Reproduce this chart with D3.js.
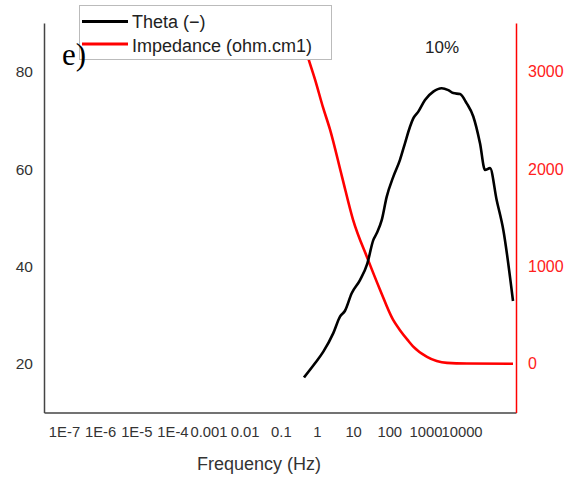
<!DOCTYPE html>
<html><head><meta charset="utf-8">
<script src="https://cdn.jsdelivr.net/npm/d3@7"></script>
<style>body{margin:0;background:#fff}svg{display:block}</style>
</head><body>
<svg id="c" width="566" height="478"></svg>
<script>
// ---- data ----
const thetaFreq = [0.438,0.881,1.50,2.83,4.34,5.96,9.14,15.5,24.7,36.1,44.9,61.8,84.9,129,198,272,375,462,637,975,1656,2825,4305,5916,9057,13900,21130,32430,44570,61380,93970,143200,265500];
const thetaVal  = [17.2,20.1,22.5,26.3,29.7,30.9,34.5,37.2,40.6,45.4,46.8,49.5,54.3,58.4,61.9,65.3,68.7,70.4,71.8,74.2,75.9,76.6,76.2,75.6,75.4,73.5,70.8,65.3,59.8,60.2,53.6,47.5,32.9];
const impFreq = [0.438,0.564,0.881,1.47,2.29,4.92,9.93,25.8,55.5,127,198,330,454,1107,3963,14160,265500];
const impVal  = [3281,3147,2921,2633,2407,1923,1481,1070,761,453,345,240,180,72,10,3,1];
const xTicks = [1e-7,1e-6,1e-5,1e-4,0.001,0.01,0.1,1,10,100,1000,10000];
const xTickLabels = ["1E-7","1E-6","1E-5","1E-4","0.001","0.01","0.1","1","10","100","1000","10000"];
const leftTicks = [20,40,60,80];
const rightTicks = [0,1000,2000,3000];

// ---- layout ----
const SANS = "Liberation Sans, Arial, sans-serif";
const L = 44, R = 516, T = 23, B = 412.5;
const svg = d3.select("#c");
const x = d3.scaleLog().domain([Math.pow(10,-7.553), Math.pow(10,5.507)]).range([L, R]);
const yL = d3.scaleLinear().domain([10, 90]).range([B, T]);
const yR = d3.scaleLinear().domain([-500, 3500]).range([B, T]);

// axes
const gx = svg.append("g").attr("transform", `translate(0,${B})`)
  .call(d3.axisBottom(x).tickValues(xTicks).tickFormat((d,i)=>xTickLabels[i]).tickSize(0).tickPadding(14));
gx.select(".domain").attr("stroke","#444").attr("stroke-width",1.5);
gx.selectAll("text").style("font-size","14.8px").attr("fill","#333").style("font-family",SANS);

const gl = svg.append("g").attr("transform", `translate(${L},0)`)
  .call(d3.axisLeft(yL).tickValues(leftTicks).tickSize(0).tickPadding(11));
gl.select(".domain").attr("stroke","#444").attr("stroke-width",1.5);
gl.selectAll("text").style("font-size","15.5px").attr("fill","#333").style("font-family",SANS);

const gr = svg.append("g").attr("transform", `translate(${R},0)`)
  .call(d3.axisRight(yR).tickValues(rightTicks).tickFormat(d3.format("d")).tickSize(0).tickPadding(12));
gr.select(".domain").attr("stroke","#ff0000").attr("stroke-width",1.5);
gr.selectAll("text").style("font-size","16px").attr("fill","#ff2020").style("font-family",SANS);

svg.append("text").attr("x", 259).attr("y", 470).attr("text-anchor","middle")
  .style("font-size","18px").style("font-family",SANS).attr("fill","#333").text("Frequency (Hz)");

// lines
const thetaData = thetaFreq.map((f,i)=>({f, v: thetaVal[i]}));
const impData = impFreq.map((f,i)=>({f, v: impVal[i]}));
svg.append("path").datum(impData)
  .attr("d", d3.line().x(d=>x(d.f)).y(d=>yR(d.v)).curve(d3.curveMonotoneX))
  .attr("fill","none").attr("stroke","#ff0000").attr("stroke-width",2.6);
svg.append("path").datum(thetaData)
  .attr("d", d3.line().x(d=>x(d.f)).y(d=>yL(d.v)).curve(d3.curveMonotoneX))
  .attr("fill","none").attr("stroke","#000").attr("stroke-width",2.6);

// legend
const lg = svg.append("g");
lg.append("rect").attr("x",79.5).attr("y",5.5).attr("width",252).attr("height",54)
  .attr("fill","#fff").attr("stroke","#bbb").attr("stroke-width",1);
lg.append("line").attr("x1",82).attr("x2",128).attr("y1",21.5).attr("y2",21.5).attr("stroke","#000").attr("stroke-width",3);
lg.append("line").attr("x1",82).attr("x2",128).attr("y1",44).attr("y2",44).attr("stroke","#ff0000").attr("stroke-width",3);
lg.append("text").attr("x",132).attr("y",27.5).style("font-size","18px").style("font-family",SANS).attr("fill","#222").text("Theta (\u2212)");
lg.append("text").attr("x",132).attr("y",51.5).style("font-size","18px").style("font-family",SANS).attr("fill","#222").text("Impedance (ohm.cm1)");

svg.append("text").attr("x",62).attr("y",65).style("font-size","31px")
  .style("font-family","Liberation Serif, Times New Roman, serif").attr("fill","#000").text("e)");
svg.append("text").attr("x",442).attr("y",53).attr("text-anchor","middle").style("font-size","17px").style("font-family",SANS).attr("fill","#222").text("10%");
</script>
</body></html>
